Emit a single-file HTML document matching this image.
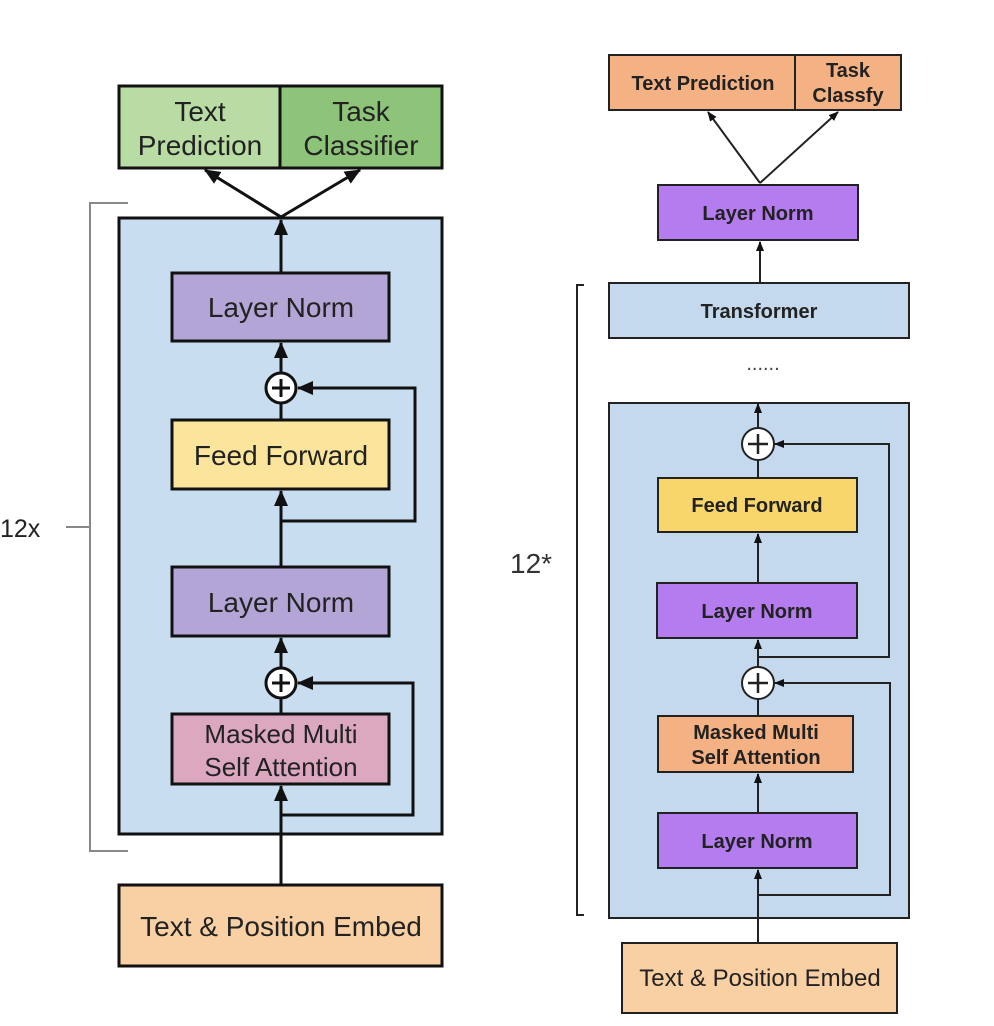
<!DOCTYPE html>
<html><head><meta charset="utf-8"><style>
html,body{margin:0;padding:0;background:#fff;}
svg{display:block;}
.l{font-family:"Liberation Sans",sans-serif;font-size:28px;fill:#222;}
.r{font-family:"Liberation Sans",sans-serif;font-size:20px;font-weight:bold;fill:#222;}
</style></head><body>
<svg width="994" height="1026" viewBox="0 0 994 1026" xmlns="http://www.w3.org/2000/svg">
<defs>
<marker id="a" markerWidth="10" markerHeight="8" refX="9" refY="4" orient="auto" markerUnits="userSpaceOnUse"><path d="M0,0 L10,4 L0,8 z" fill="#111"/></marker>
<marker id="b" markerWidth="16" markerHeight="14" refX="15" refY="7" orient="auto" markerUnits="userSpaceOnUse"><path d="M0,0 L16,7 L0,14 z" fill="#111"/></marker>
</defs>
<!-- LEFT -->
<g stroke="#111" stroke-width="3">
<rect x="119" y="218" width="323" height="616" fill="#c9ddf0"/>
<rect x="119" y="86" width="161" height="82" fill="#b9dca4"/>
<rect x="280" y="86" width="162" height="82" fill="#8dc47a"/>
<rect x="172" y="273" width="217" height="68" fill="#b3a6d6"/>
<rect x="172" y="420" width="217" height="69" fill="#fbe59c"/>
<rect x="172" y="567" width="217" height="69" fill="#b3a6d6"/>
<rect x="172" y="714" width="217" height="70" fill="#dba8c0"/>
<rect x="119" y="885" width="323" height="81" fill="#f9cfa4"/>
</g>
<g stroke="#111" stroke-width="3" fill="none">
<line x1="281" y1="217" x2="205" y2="170" marker-end="url(#b)"/>
<line x1="281" y1="217" x2="360" y2="170" marker-end="url(#b)"/>
<line x1="281" y1="273" x2="281" y2="220" marker-end="url(#b)"/>
<line x1="281" y1="373" x2="281" y2="343" marker-end="url(#b)"/>
<line x1="281" y1="420" x2="281" y2="403"/>
<line x1="281" y1="567" x2="281" y2="491" marker-end="url(#b)"/>
<polyline points="281,521 415,521 415,388 298,388" marker-end="url(#b)"/>
<line x1="281" y1="668" x2="281" y2="638" marker-end="url(#b)"/>
<line x1="281" y1="714" x2="281" y2="698"/>
<line x1="281" y1="885" x2="281" y2="786" marker-end="url(#b)"/>
<polyline points="281,815 413,815 413,683 298,683" marker-end="url(#b)"/>
<circle cx="281" cy="388" r="15" fill="#fff"/>
<circle cx="281" cy="683" r="15" fill="#fff"/>
<path d="M272,388 H290 M281,379 V397"/>
<path d="M272,683 H290 M281,674 V692"/>
</g>
<g stroke="#888" stroke-width="2" fill="none">
<polyline points="128,203 90,203 90,851 128,851"/>
<line x1="66" y1="527" x2="90" y2="527"/>
</g>
<text class="l" x="0" y="537" style="font-size:25px">12x</text>
<g class="l" text-anchor="middle">
<text x="200" y="121">Text</text><text x="200" y="155">Prediction</text>
<text x="361" y="121">Task</text><text x="361" y="155">Classifier</text>
<text x="281" y="317">Layer Norm</text>
<text x="281" y="465">Feed Forward</text>
<text x="281" y="612">Layer Norm</text>
<text x="281" y="743" style="font-size:26px">Masked Multi</text>
<text x="281" y="776" style="font-size:26px">Self Attention</text>
<text x="281" y="936">Text &amp; Position Embed</text>
</g>
<!-- RIGHT -->
<g stroke="#222" stroke-width="2">
<rect x="609" y="403" width="300" height="515" fill="#c5d9ee"/>
<rect x="609" y="55" width="186" height="55" fill="#f4b183"/>
<rect x="795" y="55" width="106" height="55" fill="#f4b183"/>
<rect x="658" y="185" width="200" height="55" fill="#b57cf0"/>
<rect x="609" y="283" width="300" height="55" fill="#c5d9ee"/>
<rect x="658" y="478" width="199" height="54" fill="#f9d66b"/>
<rect x="657" y="583" width="200" height="55" fill="#b57cf0"/>
<rect x="658" y="716" width="195" height="56" fill="#f4b183"/>
<rect x="658" y="813" width="199" height="55" fill="#b57cf0"/>
<rect x="622" y="943" width="275" height="70" fill="#f9cfa4"/>
</g>
<g stroke="#222" stroke-width="2" fill="none">
<line x1="760" y1="183" x2="708" y2="112" marker-end="url(#a)"/>
<line x1="760" y1="183" x2="838" y2="112" marker-end="url(#a)"/>
<line x1="760" y1="283" x2="760" y2="242" marker-end="url(#a)"/>
<line x1="758" y1="428" x2="758" y2="404" marker-end="url(#a)"/>
<line x1="758" y1="478" x2="758" y2="460"/>
<line x1="758" y1="583" x2="758" y2="534" marker-end="url(#a)"/>
<polyline points="758,657 889,657 889,444 775,444" marker-end="url(#a)"/>
<line x1="758" y1="667" x2="758" y2="640" marker-end="url(#a)"/>
<line x1="758" y1="716" x2="758" y2="699"/>
<line x1="758" y1="813" x2="758" y2="774" marker-end="url(#a)"/>
<line x1="758" y1="943" x2="758" y2="870" marker-end="url(#a)"/>
<polyline points="758,895 890,895 890,683 775,683" marker-end="url(#a)"/>
<circle cx="758" cy="444" r="16" fill="#fff"/>
<circle cx="758" cy="683" r="16" fill="#fff"/>
<path d="M748,444 H768 M758,434 V454" stroke-width="2.5"/>
<path d="M748,683 H768 M758,673 V693" stroke-width="2.5"/>
</g>
<polyline points="584,285 577,285 577,915 584,915" stroke="#222" stroke-width="2" fill="none"/>
<text x="510" y="573" style="font-family:'Liberation Sans',sans-serif;font-size:28px;fill:#333">12*</text>
<text x="763" y="370" text-anchor="middle" style="font-family:'Liberation Sans',sans-serif;font-size:20px;fill:#444">......</text>
<g class="r" text-anchor="middle">
<text x="703" y="90">Text Prediction</text>
<text x="848" y="77">Task</text><text x="848" y="102">Classfy</text>
<text x="758" y="220">Layer Norm</text>
<text x="759" y="318">Transformer</text>
<text x="757" y="512">Feed Forward</text>
<text x="757" y="618">Layer Norm</text>
<text x="756" y="739">Masked Multi</text>
<text x="756" y="764">Self Attention</text>
<text x="757" y="848">Layer Norm</text>
<text x="760" y="986" style="font-weight:normal;font-size:24px">Text &amp; Position Embed</text>
</g>
</svg>
</body></html>
